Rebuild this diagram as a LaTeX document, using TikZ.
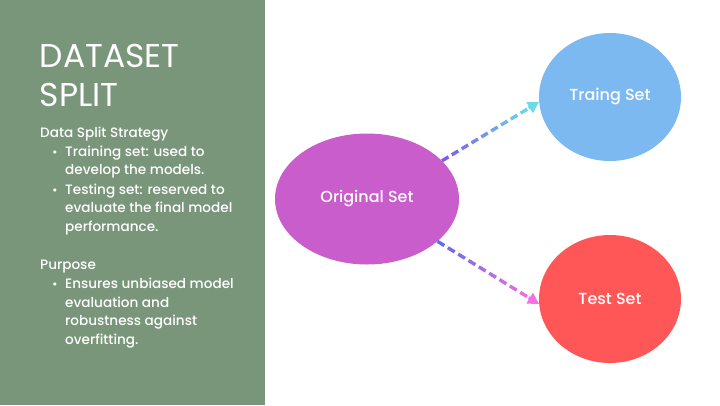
\documentclass[tikz,border=0pt]{standalone}
\usepackage{fontspec}
\setmainfont{Poppins}
\newfontfamily\medfont{Poppins}[UprightFont={* Medium}]
\usetikzlibrary{shapes.geometric,calc,arrows.meta}
\definecolor{panel}{HTML}{7A967A}
\definecolor{origfill}{HTML}{C95DCC}
\definecolor{trainfill}{HTML}{7BB9F0}
\definecolor{testfill}{HTML}{FF5757}
\definecolor{violet}{HTML}{7A57F5}
\definecolor{aqua}{HTML}{6ADCE8}
\definecolor{bluish}{HTML}{5B6CF0}
\definecolor{pinkish}{HTML}{F56FE0}

% dashed connector whose colour runs from #3 to #4, tip in #4
\newcommand\gradlink[4]{%
  \coordinate (gl-e) at ($(#2)!10pt!(#1)$);
  \foreach \i in {0,...,8}{%
    \pgfmathsetmacro\ta{\i/9}%
    \pgfmathsetmacro\tb{(\i+0.66)/9}%
    \pgfmathsetmacro\p{100*(\i+0.3)/9}%
    \draw[link, color=#4!\p!#3] ($(#1)!\ta!(gl-e)$) -- ($(#1)!\tb!(gl-e)$);
  }
  \draw[link, color=#4, -{Triangle[length=11pt,width=12pt]}] ($(gl-e)!2pt!(#1)$) -- (#2);
}

\tikzset{
  blob/.style={ellipse, inner sep=0pt, text=white, font=\medfont\fontsize{16}{19}\selectfont},
  link/.style={line width=3.4pt},
  body/.style={anchor=base west, text=white, inner sep=0pt, font=\medfont\fontsize{13.6}{16}\selectfont},
  dot/.style={anchor=base west, text=white, inner sep=0pt, font=\medfont\fontsize{12}{15}\selectfont},
  title/.style={anchor=base west, text=white, inner sep=0pt, font=\fontsize{33}{40}\selectfont},
}

\begin{document}
\begin{tikzpicture}[x=1pt,y=-1pt]
  \path[use as bounding box] (0,0) rectangle (720,405);
  \fill[panel] (0,0) rectangle (265,405);

  % title
  \node[title] (t1) at (39.5,67) {DATASET};
  \node[title] (t2) at (39.5,106) {SPLIT};

  % notes
  \node[body] (h1) at (40,137) {Data Split Strategy};
  \node[dot] (b1) at (52,156) {•};
  \node[body] (l1) at (65,156) {Training set: used to};
  \node[body] (l2) at (65,174.5) {develop the models.};
  \node[dot] (b2) at (52,194) {•};
  \node[body] (l3) at (65,194) {Testing set: reserved to};
  \node[body] (l4) at (65,212.5) {evaluate the final model};
  \node[body] (l5) at (65,231) {performance.};
  \node[body] (h2) at (40,269) {Purpose};
  \node[dot] (b3) at (52,288) {•};
  \node[body] (l6) at (65,288) {Ensures unbiased model};
  \node[body] (l7) at (65,307) {evaluation and};
  \node[body] (l8) at (65,325.5) {robustness against};
  \node[body] (l9) at (65,344) {overfitting.};

  % sets
  \node[blob, fill=origfill, minimum width=184pt, minimum height=131pt] (orig) at (367,199) {Original Set};
  \node[blob, fill=trainfill, minimum width=142pt, minimum height=128pt] (train) at (610,97) {Traing Set};
  \node[blob, fill=testfill, minimum width=142pt, minimum height=128pt] (test) at (610,299) {Test Set};

  % connectors
  \gradlink{orig.27}{train.184}{violet}{aqua}
  \gradlink{orig.-31}{test.184}{bluish}{pinkish}
\end{tikzpicture}
\end{document}
